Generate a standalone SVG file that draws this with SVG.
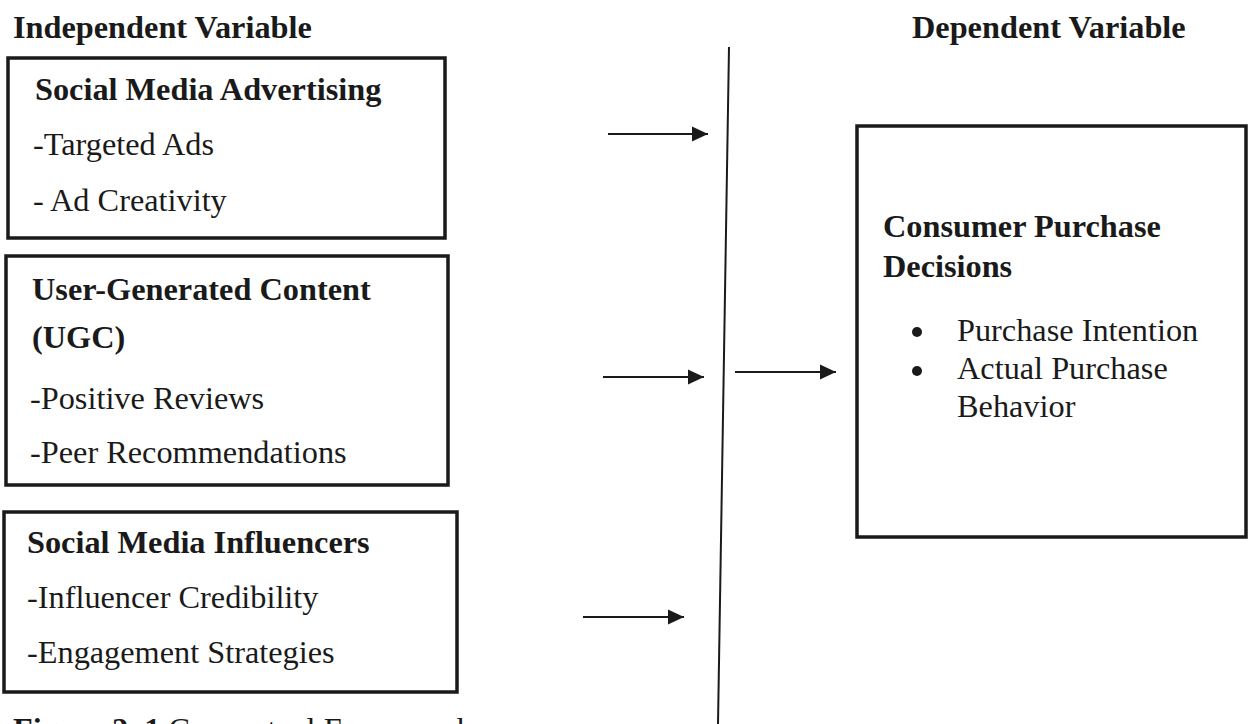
<svg xmlns="http://www.w3.org/2000/svg" width="1248" height="724" viewBox="0 0 1248 724">
<style>
text{font-family:"Liberation Serif","Times New Roman",serif;font-size:32.3px;fill:#1a1a1a}
.b{font-weight:bold}
.box{fill:#fff;stroke:#1a1a1a;stroke-width:3.5}
.conn{stroke:#1a1a1a;stroke-width:2;fill:none}
</style>
<defs>
<marker id="ah" markerWidth="17" markerHeight="16" refX="16" refY="8" orient="auto" markerUnits="userSpaceOnUse">
<path d="M0,0.5 L16,8 L0,15.5 Z" fill="#1a1a1a"/>
</marker>
</defs>
<rect width="1248" height="724" fill="#fff"/>
<text id="title-iv" class="b" x="13" y="38">Independent Variable</text>
<text id="title-dv" class="b" x="912" y="38">Dependent Variable</text>
<g id="node-sma">
<rect class="box" x="8" y="58" width="437" height="180"/>
<text class="b" x="35" y="100">Social Media Advertising</text>
<text x="33" y="155">-Targeted Ads</text>
<text x="33" y="211">- Ad Creativity</text>
</g>
<g id="node-ugc">
<rect class="box" x="6" y="256" width="442" height="229"/>
<text class="b" x="32" y="300">User-Generated Content</text>
<text class="b" x="32" y="348">(UGC)</text>
<text x="30" y="409">-Positive Reviews</text>
<text x="30" y="463">-Peer Recommendations</text>
</g>
<g id="node-smi">
<rect class="box" x="4" y="512" width="453" height="180"/>
<text class="b" x="27" y="553">Social Media Influencers</text>
<text x="27" y="608">-Influencer Credibility</text>
<text x="27" y="663">-Engagement Strategies</text>
</g>
<g id="node-cpd">
<rect class="box" x="857" y="126" width="389" height="411"/>
<text class="b" x="883" y="237">Consumer Purchase</text>
<text class="b" x="883" y="277">Decisions</text>
<circle cx="917" cy="332" r="5" fill="#1a1a1a"/>
<text x="957" y="341">Purchase Intention</text>
<circle cx="917" cy="371" r="5" fill="#1a1a1a"/>
<text x="957" y="379">Actual Purchase</text>
<text x="957" y="417">Behavior</text>
</g>
<g id="connectors">
<line class="conn" x1="729" y1="47" x2="718" y2="724"/>
<line class="conn" x1="608" y1="134" x2="708" y2="134" marker-end="url(#ah)"/>
<line class="conn" x1="603" y1="377" x2="704" y2="377" marker-end="url(#ah)"/>
<line class="conn" x1="735" y1="372" x2="836" y2="372" marker-end="url(#ah)"/>
<line class="conn" x1="583" y1="617" x2="684" y2="617" marker-end="url(#ah)"/>
</g>
<text id="caption" x="13" y="740"><tspan class="b">Figure 2. 1</tspan> Conceptual Framework</text>
</svg>
